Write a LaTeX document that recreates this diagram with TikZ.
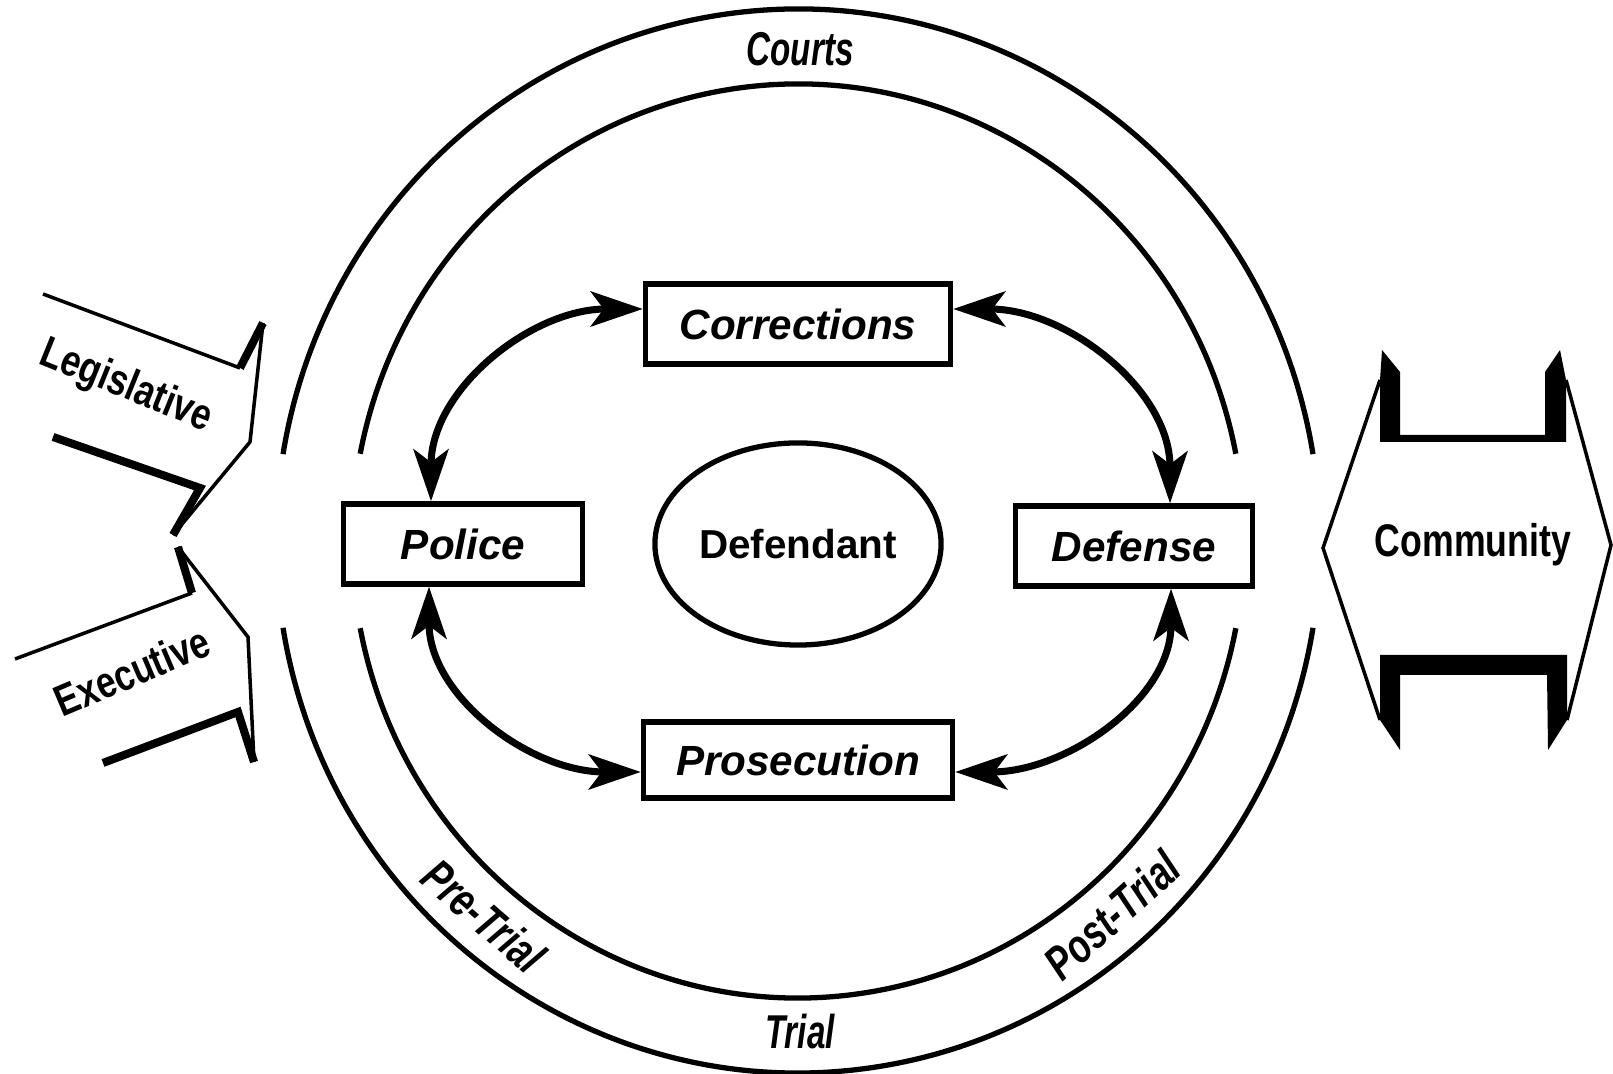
\documentclass[tikz,border=0pt]{standalone}
\usepackage{fontspec}
\setmainfont{Liberation Sans}
\usetikzlibrary{arrows.meta,shapes.geometric,calc}
\newcommand{\cond}[2][0.75]{\scalebox{#1}[1]{#2}}

\begin{document}
\begin{tikzpicture}[x=0.01cm,y=0.01cm]
\tikzstyle{ring}=[line width=1.5pt]
\tikzstyle{agency}=[draw,rectangle,line width=1.5pt,inner sep=0pt,minimum height=0.8cm,font=\fontsize{12}{14}\selectfont\bfseries\itshape]
\tikzstyle{twoway}=[{Stealth[length=5.2mm,width=3.5mm,inset=1.3mm]}-{Stealth[length=5.2mm,width=3.5mm,inset=1.3mm]},line width=2pt]
\tikzstyle{stage}=[font=\fontsize{13.5}{15}\selectfont\bfseries\itshape]
\tikzstyle{branch}=[font=\fontsize{12.5}{14}\selectfont\bfseries]
\tikzstyle{edge}=[line width=1pt]
\tikzstyle{shade}=[line width=2.3pt]

\useasboundingbox (0,0) rectangle (1613,1074);

\coordinate (hub) at (798,533);
\draw[ring] (hub) ++(9.4:522 and 532) arc[start angle=9.4,end angle=170.6,x radius=522,y radius=532];
\draw[ring] (hub) ++(189.4:522 and 532) arc[start angle=189.4,end angle=350.6,x radius=522,y radius=532];
\draw[ring] (hub) ++(11:446 and 457) arc[start angle=11,end angle=169,x radius=446,y radius=457];
\draw[ring] (hub) ++(191:446 and 457) arc[start angle=191,end angle=349,x radius=446,y radius=457];

\node[agency,minimum width=3.05cm] (corrections) at (798,750) {Corrections};
\node[agency,minimum width=2.39cm] (police) at (463,530) {Police};
\node[agency,minimum width=2.37cm] (defense) at (1134,528) {Defense};
\node[agency,minimum width=3.09cm,minimum height=0.76cm] (prosecution) at (798,314) {Prosecution};
\node[draw,ellipse,line width=1.5pt,inner sep=0pt,minimum width=2.86cm,minimum height=2.02cm,font=\fontsize{11.5}{13}\selectfont\bfseries] (defendant) at (798,530) {Defendant};

\draw[twoway] ($(police.north)+(-32,0)$) to[out=90,in=180] ($(corrections.west)+(0,15)$);
\draw[twoway] ($(corrections.east)+(0,15)$) to[out=0,in=90] ($(defense.north)+(36,0)$);
\draw[twoway] ($(police.south)+(-34,0)$) to[out=-90,in=180] ($(prosecution.west)+(0,-12)$);
\draw[twoway] ($(defense.south)+(37,0)$) to[out=-90,in=0] ($(prosecution.east)+(0,-12)$);

\node[stage] (courts) at (800,1025) {\cond[0.7]{Courts}};
\node[stage] (trial) at (800,42) {\cond[0.7]{Trial}};
\node[stage,rotate=-41] (pretrial) at (484,158) {\cond{Pre-Trial}};
\node[stage,rotate=42] (posttrial) at (1112,159) {\cond{Post-Trial}};

\draw[edge] (43,780) -- (240,706);
\draw[edge] (263,751) -- (250,632) -- (173,539);
\draw[shade] (240,706) -- (263,751);
\draw[shade] (173,539) -- (200,586) -- (53,637);
\node[branch,rotate=-22] (legislative) at (126,687) {\cond[0.8]{Legislative}};

\draw[edge] (192,481) -- (15,415);
\draw[edge] (178,527) -- (248,437) -- (254,312);
\draw[shade] (178,527) -- (192,481);
\draw[shade] (254,312) -- (238,362) -- (103,311);
\node[branch,rotate=23] (executive) at (132,403) {\cond[0.8]{Executive}};

\fill (1382,724) -- (1400,702) -- (1400,639) -- (1545,639) -- (1545,702) -- (1560,724) -- (1566,694) -- (1566,632) -- (1380,632) -- (1380,694) -- cycle;
\fill (1380,419) -- (1567,419) -- (1567,354) -- (1548,324) -- (1547,399) -- (1400,399) -- (1400,324) -- (1380,354) -- cycle;
\draw[edge] (1380,694) -- (1323,526) -- (1380,354);
\draw[edge] (1566,694) -- (1611,529) -- (1567,354);
\node[font=\fontsize{13}{15}\selectfont\bfseries] (community) at (1473,529) {\cond[0.78]{Community}};
\end{tikzpicture}
\end{document}
